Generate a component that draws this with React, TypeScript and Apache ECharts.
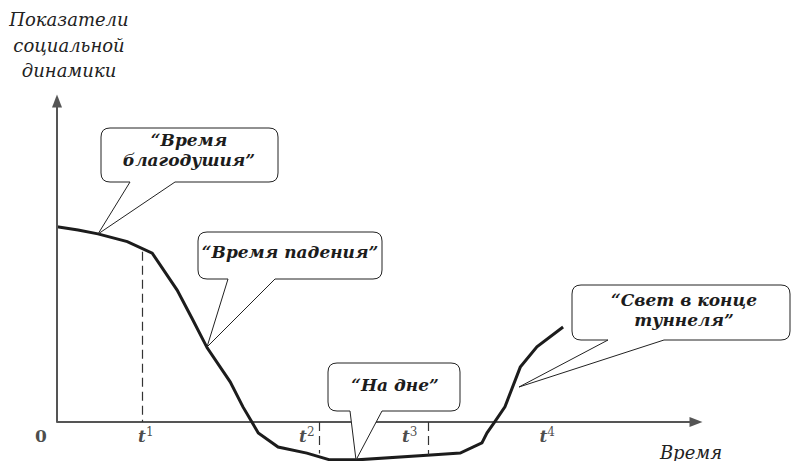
import React, { useEffect, useRef } from "react";
import * as echarts from "echarts";

// ---- data ----
const CURVE_X = [0, 3.3, 6.4, 11.0, 14.9, 18.8, 21.1, 23.5, 27.1, 29.1, 31.5, 34.6, 39.1, 42.7, 47.0, 58.5, 63.1, 66.5, 67.3, 68.5, 70.1, 72.5, 75.1, 79.2];
const CURVE_Y = [60.8, 59.8, 58.6, 56.2, 52.6, 41.1, 32.4, 23.1, 12.5, 4.7, -3.4, -7.8, -9.7, -11.8, -11.8, -10.3, -9.7, -6.5, -3.4, 0, 4.7, 17.1, 23.4, 29.6];
const TICK_X = [13.9, 39.1, 55.2, 76.7];
const TICK_NAMES = ["t", "t", "t", "t"];
const TICK_INDEX = ["1", "2", "3", "4"];
const DASH_X = [13.3, 41.0, 58.1];
const DASH_FROM = [53, 0, 0];
const DASH_TO = [0, -9.8, -10.3];
const ORIGIN_LABEL = "0";
const Y_TITLE = "Показатели\nсоциальной\nдинамики";
const X_TITLE = "Время";
const CALLOUT_TEXTS = ["“Время\nблагодушия”", "“Время падения”", "“На дне”", "“Свет в конце\nтуннеля”"];
const X_MIN = 0;
const X_MAX = 100;
const Y_MIN = -12;
const Y_MAX = 100;

// ---- layout (pixels) ----
const CALLOUT_BOXES = [
  { x1: 101, y1: 128, x2: 278, y2: 182, b1: 130, b2: 175, tx: 98, ty: 234, cx: 189, cy: 150 },
  { x1: 198, y1: 232, x2: 382, y2: 279, b1: 228, b2: 275, tx: 207, ty: 347, cx: 290, cy: 252 },
  { x1: 328, y1: 363, x2: 460, y2: 411, b1: 350, b2: 382, tx: 356, ty: 460, cx: 395, cy: 385 },
  { x1: 572, y1: 285, x2: 790, y2: 340, b1: 608, b2: 664, tx: 519, ty: 387, cx: 684, cy: 310 },
];
const FONT = "DejaVu Serif";
const INK = "#1c1c1c";
const AXIS = "#555555";

function bubblePath(b: any, r: number) {
  const { x1, y1, x2, y2, b1, b2, tx, ty } = b;
  return [
    `M ${x1 + r} ${y1}`,
    `L ${x2 - r} ${y1}`,
    `Q ${x2} ${y1} ${x2} ${y1 + r}`,
    `L ${x2} ${y2 - r}`,
    `Q ${x2} ${y2} ${x2 - r} ${y2}`,
    `L ${b2} ${y2}`,
    `L ${tx} ${ty}`,
    `L ${b1} ${y2}`,
    `L ${x1 + r} ${y2}`,
    `Q ${x1} ${y2} ${x1} ${y2 - r}`,
    `L ${x1} ${y1 + r}`,
    `Q ${x1} ${y1} ${x1 + r} ${y1}`,
    "Z",
  ].join(" ");
}

export default function App() {
  const ref = useRef<HTMLDivElement>(null);

  useEffect(() => {
    document.body.style.margin = "0";
    if (!ref.current) return;
    CALLOUT_BOXES.forEach((b, i) => {
      echarts.graphic.registerShape("bubble" + i, echarts.graphic.extendPath(bubblePath(b, 9), {}));
    });
    const chart = echarts.init(ref.current, null, { renderer: "svg" });

    const curve = CURVE_X.map((x, i) => [x, CURVE_Y[i]]);

    const markLines: any[] = [
      [
        { coord: [X_MIN, 0], symbol: "none" },
        {
          coord: [X_MIN, Y_MAX],
          symbol: "triangle",
          symbolSize: [10, 13],
          lineStyle: { color: AXIS, width: 2, type: "solid" },
        },
      ],
    ];
    DASH_X.forEach((x, i) => {
      markLines.push([
        { coord: [x, DASH_FROM[i]], symbol: "none" },
        { coord: [x, DASH_TO[i]], symbol: "none", lineStyle: { color: "#333", width: 1.2, type: [9, 5] } },
      ]);
    });

    const labelData: any[] = TICK_X.map((x, i) => ({
      value: [x, 0],
      name: TICK_NAMES[i],
      label: { formatter: `{t|${TICK_NAMES[i]}}{s|${TICK_INDEX[i]}}` },
    }));
    labelData.push({
      value: [X_MIN, 0],
      name: ORIGIN_LABEL,
      label: { formatter: `{z|${ORIGIN_LABEL}}`, offset: [-16, 14] },
    });

    const graphics: any[] = [
      {
        type: "text",
        x: 69,
        y: 7,
        z: 10,
        style: {
          text: Y_TITLE,
          fontFamily: FONT,
          fontStyle: "italic",
          fontSize: 18,
          lineHeight: 25.5,
          fill: "#222",
          align: "center",
          verticalAlign: "top",
        },
      },
      {
        type: "text",
        x: 691,
        y: 452,
        z: 10,
        style: {
          text: X_TITLE,
          fontFamily: FONT,
          fontStyle: "italic",
          fontSize: 18,
          fill: "#222",
          align: "center",
          verticalAlign: "middle",
        },
      },
    ];
    CALLOUT_BOXES.forEach((b, i) => {
      graphics.push({
        type: "bubble" + i,
        z: 10,
        style: { fill: "#ffffff", stroke: "#222", lineWidth: 1 },
      });
      graphics.push({
        type: "text",
        x: b.cx,
        y: b.cy,
        z: 11,
        style: {
          text: CALLOUT_TEXTS[i],
          fontFamily: FONT,
          fontStyle: "italic",
          fontWeight: "bold",
          fontSize: 17,
          lineHeight: 20,
          fill: INK,
          align: "center",
          verticalAlign: "middle",
        },
      });
    });

    chart.setOption({
      animation: false,
      grid: { left: 57, right: 97, top: 101, bottom: 0.5 },
      xAxis: {
        type: "value",
        min: X_MIN,
        max: X_MAX,
        axisLine: {
          show: true,
          onZero: true,
          symbol: ["none", "triangle"],
          symbolSize: [10, 13],
          lineStyle: { color: AXIS, width: 2 },
        },
        axisTick: { show: false },
        axisLabel: { show: false },
        splitLine: { show: false },
      },
      yAxis: {
        type: "value",
        min: Y_MIN,
        max: Y_MAX,
        axisLine: { show: false },
        axisTick: { show: false },
        axisLabel: { show: false },
        splitLine: { show: false },
      },
      series: [
        {
          type: "line",
          data: curve,
          symbol: "none",
          clip: false,
          silent: true,
          lineStyle: { color: INK, width: 3, join: "miter" },
          markLine: {
            silent: true,
            symbol: ["none", "none"],
            label: { show: false },
            lineStyle: { color: AXIS, width: 2, type: "solid" },
            data: markLines,
          },
          z: 3,
        },
        {
          type: "scatter",
          data: labelData,
          symbolSize: 0,
          silent: true,
          clip: false,
          label: {
            show: true,
            position: "inside",
            offset: [0, 14],
            color: INK,
            rich: {
              t: {
                fontFamily: FONT,
                fontStyle: "italic",
                fontWeight: "bold",
                fontSize: 17,
                lineHeight: 20,
                color: INK,
              },
              s: {
                fontFamily: FONT,
                fontWeight: "normal",
                fontSize: 12,
                lineHeight: 17,
                verticalAlign: "top",
                color: INK,
              },
              z: {
                fontFamily: FONT,
                fontWeight: "bold",
                fontSize: 17,
                lineHeight: 20,
                color: INK,
              },
            },
          },
        },
      ],
      graphic: { elements: graphics },
    });

    return () => {
      chart.dispose();
    };
  }, []);

  return <div ref={ref} style={{ width: 793, height: 461 }} />;
}
